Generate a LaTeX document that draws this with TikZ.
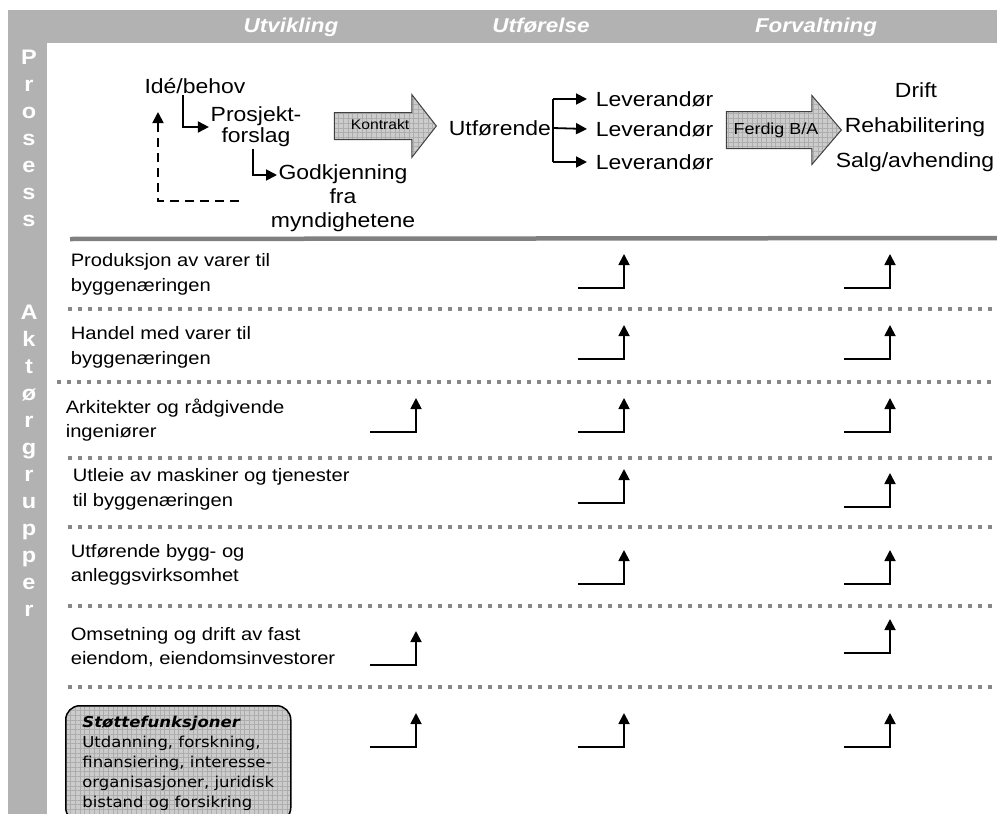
\documentclass[tikz,border=0pt]{standalone}
\usepackage{fontspec}
\setmainfont{Liberation Sans}[FakeStretch=1.12]
\newfontfamily\boksfont{DejaVu Sans}[FakeStretch=1.1]
\usetikzlibrary{arrows.meta,shapes.arrows,patterns.meta}
\definecolor{bandgraa}{gray}{0.70}
\definecolor{prikkgraa}{gray}{0.53}
\definecolor{strekgraa}{gray}{0.50}
\definecolor{fyllgraa}{gray}{0.80}
\definecolor{rutegraa}{gray}{0.68}

\begin{document}
\begin{tikzpicture}[x=1pt,y=-1pt,>={Triangle[length=11pt,width=11pt]},line width=1.6pt,
  hode/.style={text=white,text height=14pt,text depth=4pt,font=\fontsize{20}{24}\selectfont\bfseries\itshape},
  bokstav/.style={text=white,text height=15pt,text depth=0pt,font=\fontsize{21}{24}\selectfont\bfseries},
  prosess/.style={inner sep=1pt,align=center,font=\fontsize{20.5}{24}\selectfont},
  aktor/.style={anchor=west,inner sep=0pt,align=left,font=\fontsize{18}{24.5}\selectfont},
  prikk/.style={prikkgraa,line width=4pt,dash pattern=on 4pt off 6pt},
  rute/.style={preaction={fill=fyllgraa},pattern={Hatch[distance=4.7pt,line width=0.4pt]},pattern color=rutegraa},
  blokkpil/.style={rute,draw=black!75,line width=1pt,single arrow,inner xsep=6pt,anchor=tip},
  pil/.style={->,line width=1.8pt}]
  \useasboundingbox (0,0) rectangle (997,814);
  \clip (0,0) rectangle (997,814);

  % grå ramme: topp og venstre kolonne
  \fill[bandgraa] (8,10) rectangle (997,43);
  \fill[bandgraa] (8,10) rectangle (47,814);
  \node[hode] (utvikling) at (291,27) {Utvikling};
  \node[hode] (utforelse) at (541,27) {Utførelse};
  \node[hode] (forvaltning) at (816,27) {Forvaltning};
  \foreach \b [count=\i] in {P,r,o,s,e,s,s}
    \node[bokstav] (p\i) at (29,30+27*\i) {\b};
  \foreach \b [count=\i] in {A,k,t,ø,r,g,r,u,p,p,e,r}
    \node[bokstav] (a\i) at (29,285+27*\i) {\b};

  % prosess: utvikling
  \node[prosess] (ide) at (195,86) {Idé/behov};
  \node[prosess,font=\fontsize{20.5}{21}\selectfont] (prosjekt) at (256,127) {Prosjekt-\\forslag};
  \node[prosess] (godkj) at (343,198) {Godkjenning\\fra\\myndighetene};
  \coordinate (g2) at (277,175);
  \coordinate (d1) at (239,201);
  \coordinate (d2) at (158,112);
  \draw[pil] ([xshift=-12pt]ide.south) |- (prosjekt.west);
  \draw[pil] ([xshift=-3pt]prosjekt.south) |- (g2);
  \draw[pil,dash pattern=on 9pt off 6pt] (d1) -| (d2);

  % kontrakt og utførelse
  \node[blokkpil,minimum height=102pt,single arrow head extend=18pt,single arrow tip angle=104,
    inner ysep=6.5pt,text height=10pt,text depth=3pt,font=\fontsize{14}{16}\selectfont]
    (kontrakt) at (437,126) {Kontrakt};
  \node[prosess,anchor=west] (utf) at (447,128) {Utførende};
  \coordinate (forgrein) at (553,128);
  \foreach \i/\y in {1/99,2/129,3/162}
    \node[prosess,anchor=west,inner xsep=8pt] (lev\i) at (587,\y) {Leverandør};
  \draw (forgrein |- lev1) -- (forgrein |- lev3);
  \draw[pil] (forgrein |- lev1) -- (lev1.west);
  \draw[pil] (utf.east) -- (lev2.west);
  \draw[pil] (forgrein |- lev3) -- (lev3.west);

  % ferdig og forvaltning
  \node[blokkpil,minimum height=115pt,single arrow head extend=16pt,single arrow tip angle=99,
    inner ysep=10.5pt,text height=11.5pt,text depth=3.5pt,font=\fontsize{16}{18}\selectfont]
    (ferdig) at (842,130) {Ferdig B/A};
  \node[prosess] (drift) at (916,90) {Drift};
  \node[prosess] (rehab) at (915,127) {Rehabilitering};
  \node[prosess] (salg) at (915,162) {Salg/avhending};

  % skille mellom prosess og aktørgrupper
  \draw[strekgraa,line width=4.5pt] (70,239) -- (997,238);
  \foreach \x/\y in {68/309,57/382,68/458,68/527,68/606,68/687}
    \draw[prikk] (\x,\y) -- (992,\y);

  % aktørgrupper
  \node[aktor] (r1) at (70,274.5) {Produksjon av varer til\\byggenæringen};
  \node[aktor] (r2) at (70,347.5) {Handel med varer til\\byggenæringen};
  \node[aktor] (r3) at (65,420) {Arkitekter og rådgivende\\ingeniører};
  \node[aktor] (r4) at (72,489.5) {Utleie av maskiner og tjenester\\til byggenæringen};
  \node[aktor] (r5) at (70,565) {Utførende bygg- og\\anleggsvirksomhet};
  \node[aktor] (r6) at (70,647) {Omsetning og drift av fast\\eiendom, eiendomsinvestorer};
  \node[rute,draw,rounded corners=14pt,line width=1.5pt,anchor=north west,
    minimum width=225pt,minimum height=116pt,align=left,
    font=\boksfont\fontsize{15}{20}\selectfont] (stotte) at (65,705)
    {\textbf{\textit{Støttefunksjoner}}\\Utdanning, forskning,\\finansiering, interesse-\\organisasjoner, juridisk\\bistand og forsikring};

  % piler: vannrett strek, så opp
  \foreach \x/\y in {624/288,890/288,624/359,890/359,416/432,624/432,890/432,
      624/503,890/507,624/584,890/584,416/665,890/653,416/747,624/747,890/747} {
    \coordinate (s) at (\x-46,\y);
    \coordinate (e) at (\x,\y-34);
    \draw[pil] (s) -| (e);
  }
\end{tikzpicture}
\end{document}
